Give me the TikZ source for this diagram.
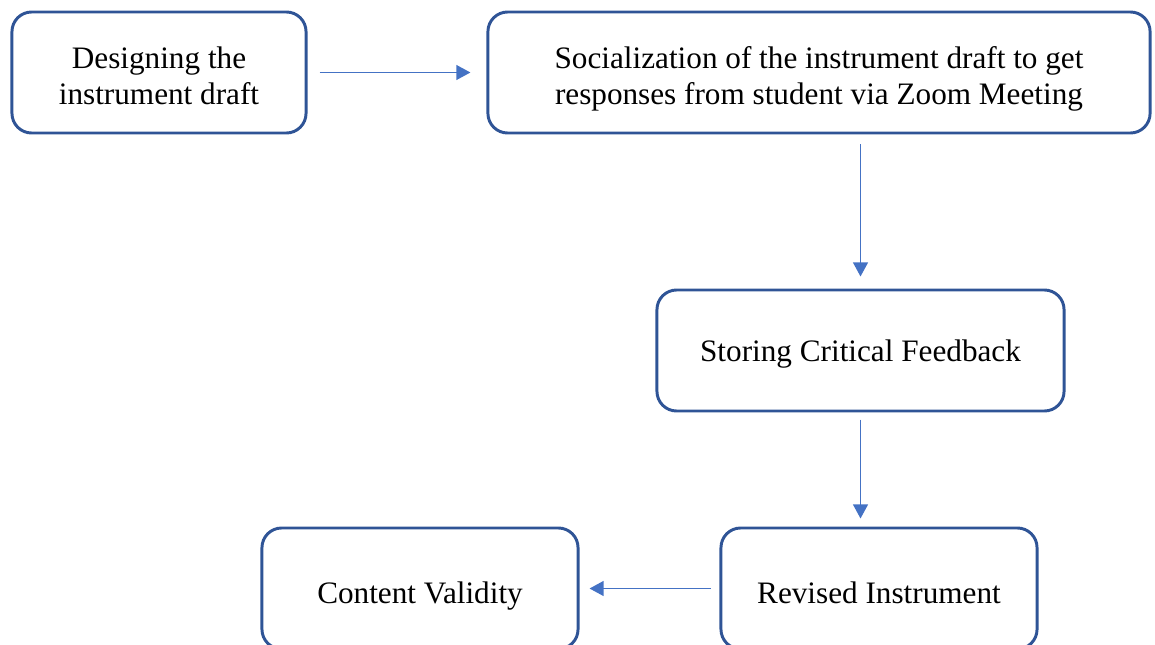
\documentclass[tikz,border=0pt]{standalone}
\usepackage{fontspec}
\setmainfont{Liberation Serif}
\usetikzlibrary{arrows.meta}
\definecolor{boxblue}{RGB}{47,84,150}
\definecolor{arrowblue}{RGB}{68,114,196}
\tikzset{
  stage/.style={rectangle, rounded corners=14pt, draw=boxblue, line width=2.1pt, minimum height=3.025cm, align=center, font=\fontsize{22.2}{25.3}\selectfont, inner sep=0pt, text height=22pt, text depth=0pt},
  flow/.style={draw=arrowblue, line width=1.3pt, -{Triangle[length=10pt, width=10.5pt]}}
}
\begin{document}
\begin{tikzpicture}[x=0.025cm, y=-0.025cm]
      \useasboundingbox (0,0) rectangle (1155,644);
      \node[stage, minimum width=7.35cm, text height=45pt] (design) at (159,72.5) {Designing the\\instrument draft};
      \node[stage, minimum width=16.55cm, text height=45pt] (social) at (819,72.5) {Socialization of the instrument draft to get\\responses from student via Zoom Meeting};
      \node[stage, minimum width=10.175cm, text height=15pt] (store) at (860.5,350.5) {Storing Critical Feedback};
      \node[stage, minimum width=7.9cm] (revise) at (879,588.5) {Revised Instrument};
      \node[stage, minimum width=7.9cm] (valid) at (420,588.5) {Content Validity};

      \draw[flow, shorten <=0.3cm, shorten >=0.4cm] (design.east) -- (design.east -| social.west);
      \draw[flow, shorten <=0.25cm, shorten >=0.3cm] (social.south -| store) -- (store.north);
      \draw[flow, shorten <=0.18cm, shorten >=0.2cm] (store.south) -- (store.south |- revise.north);
      \draw[flow, shorten <=0.22cm, shorten >=0.25cm] (revise.west) -- (revise.west -| valid.east);
\end{tikzpicture}
\end{document}
